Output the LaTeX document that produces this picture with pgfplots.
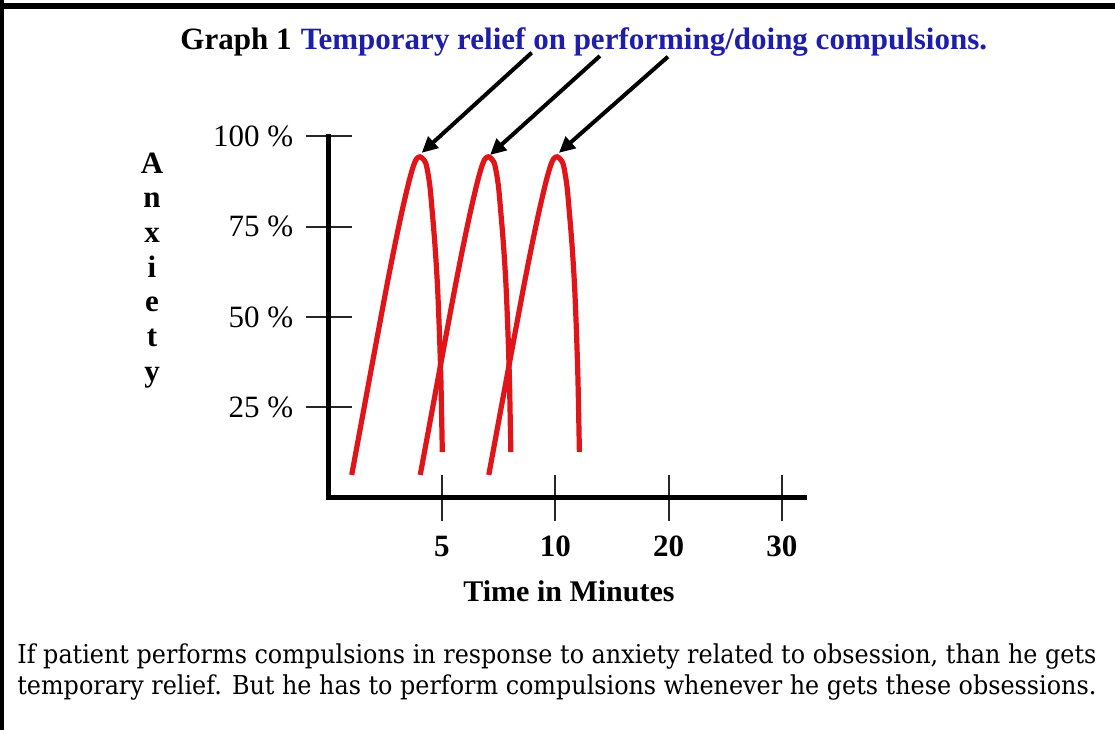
\documentclass[border=0pt]{standalone}
\usepackage{pgfplots}
\pgfplotsset{compat=1.18}
\usepackage{graphicx}
\usepackage{fontspec}
\setmainfont{Liberation Serif}
\newfontfamily\parafont{DejaVu Serif}
\usetikzlibrary{arrows.meta}
\definecolor{titleblue}{RGB}{30,30,170}
\definecolor{curvered}{RGB}{225,20,25}
\pgfplotstableread{
x y
0.203 6.3
0.279 19.2
0.361 33.1
0.437 45.9
0.514 58.8
0.584 69.9
0.646 79.1
0.708 87.4
0.750 92.0
0.777 93.8
0.806 94.3
0.836 93.6
0.862 92.0
0.892 86.5
0.914 79.1
0.938 69.9
0.960 58.8
0.977 45.9
0.990 33.1
0.999 19.2
1.003 12.6
}\curveA
\pgfplotstableread{
x y
0.808 6.3
0.884 19.2
0.966 33.1
1.042 45.9
1.119 58.8
1.189 69.9
1.251 79.1
1.313 87.4
1.355 92.0
1.382 93.8
1.411 94.3
1.441 93.6
1.467 92.0
1.497 86.5
1.519 79.1
1.543 69.9
1.565 58.8
1.582 45.9
1.595 33.1
1.604 19.2
1.608 12.6
}\curveB
\pgfplotstableread{
x y
1.413 6.3
1.489 19.2
1.571 33.1
1.647 45.9
1.724 58.8
1.794 69.9
1.856 79.1
1.918 87.4
1.960 92.0
1.987 93.8
2.016 94.3
2.046 93.6
2.072 92.0
2.102 86.5
2.124 79.1
2.148 69.9
2.170 58.8
2.187 45.9
2.200 33.1
2.209 19.2
2.213 12.6
}\curveC
\begin{document}
\begin{tikzpicture}
\begin{scope}[x=0.5pt,y=-0.5pt]
\useasboundingbox (0,0) rectangle (1115,730);
\fill[white] (0,0) rectangle (1115,730);
\draw[line width=3pt] (0,6) -- (1115,6);
\draw[line width=2.2pt] (2,0) -- (2,730);
\node[anchor=base west, inner sep=0pt, font=\fontsize{15.5pt}{18pt}\selectfont\bfseries] at (180,49)
  {Graph 1\hspace{0.3em}\textcolor{titleblue}{Temporary relief on performing/doing compulsions.}};
\foreach \l [count=\i from 0] in {A,n,x,i,e,t,y}
  \node[anchor=base, inner sep=0pt, font=\fontsize{15.5pt}{18pt}\selectfont\bfseries] at (152,173+34.7*\i) {\l};
\node[anchor=base, inner sep=0pt, font=\fontsize{15pt}{18pt}\selectfont\bfseries] at (569,601) {Time in Minutes};
\node[anchor=base west, inner sep=0pt] at (17,663)
  {\resizebox{539.5pt}{\height}{\parafont\fontsize{13pt}{15pt}\selectfont If patient performs compulsions in response to anxiety related to obsession, than he gets}};
\node[anchor=base west, inner sep=0pt] at (17,694)
  {\resizebox{539.5pt}{\height}{\parafont\fontsize{13pt}{15pt}\selectfont temporary relief. But he has to perform compulsions whenever he gets these obsessions.}};
\end{scope}
\begin{axis}[
  at={(164.35pt,-248.85pt)}, anchor=south west,
  scale only axis, width=237.9pt, height=180.75pt,
  xmin=0, xmax=4.2, ymin=0, ymax=100,
  clip=false,
  axis lines=left,
  axis line style={line width=2.25pt, -, line cap=rect},
  xtick={1,2,3,4}, xticklabels={\textbf{5},\textbf{10},\textbf{20},\textbf{30}},
  ytick={25,50,75,100}, yticklabels={\mbox{25 \%},\mbox{50 \%},\mbox{75 \%},\mbox{100 \%}},
  tick align=center, major tick length=23pt,
  tick style={line width=1pt, color=black!85},
  every tick label/.append style={font=\fontsize{15.5pt}{18pt}\selectfont},
  yticklabel style={anchor=east, inner sep=0pt, xshift=-6pt},
  xticklabel style={anchor=north, inner sep=0pt, yshift=-7.5pt},
]
\addplot[curvered, line width=2.6pt, smooth, tension=0.5] table {\curveA};
\addplot[curvered, line width=2.6pt, smooth, tension=0.5] table {\curveB};
\addplot[curvered, line width=2.6pt, smooth, tension=0.5] table {\curveC};
\draw[line width=2pt, -{Triangle[length=8pt,width=7.5pt]}] (axis cs:1.792,123.1) -- (axis cs:0.821,95.4);
\draw[line width=2pt, -{Triangle[length=8pt,width=7.5pt]}] (axis cs:2.394,122.2) -- (axis cs:1.424,94.8);
\draw[line width=2pt, -{Triangle[length=8pt,width=7.5pt]}] (axis cs:2.995,122.0) -- (axis cs:2.032,95.4);
\end{axis}
\end{tikzpicture}
\end{document}
